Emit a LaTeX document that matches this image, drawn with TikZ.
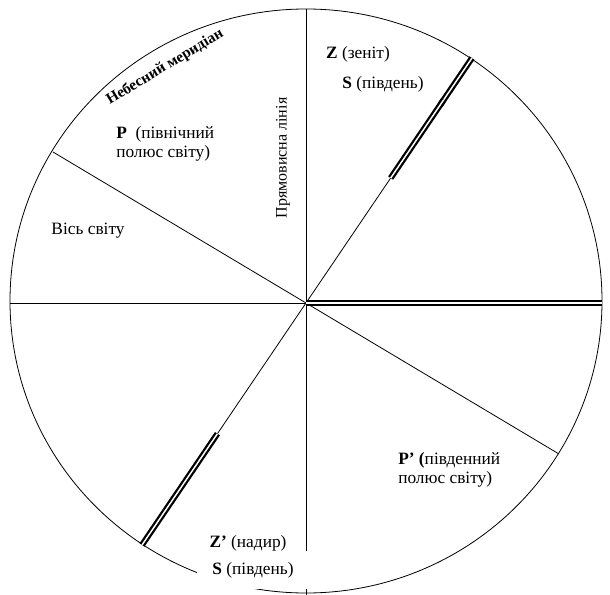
\documentclass[tikz,border=0pt]{standalone}
\usepackage{fontspec}
\setmainfont{Liberation Serif}
\newfontfamily\timesfont{Liberation Serif}
\usetikzlibrary{calc}

\begin{document}
\begin{tikzpicture}[
  x=0.75pt, y=-0.75pt,
  every node/.style={inner sep=0pt, font=\timesfont\fontsize{13}{14.5}\selectfont},
  thin line/.style={draw, line width=0.6pt},
  double axis/.style={draw, line width=1.7pt, double, double distance=1.1pt},
  pole text/.style={anchor=west, align=left}
]
\useasboundingbox (0,0) rectangle (610,595);
\coordinate (O) at (306,303);
\coordinate (C) at (306,301);
\coordinate (top) at (306,9);
\coordinate (bot) at (306,595);
\coordinate (W) at (10,303);
\coordinate (E) at (602,303);
\coordinate (P) at (53,152);
\coordinate (Pn) at (559,454);
\coordinate (Z) at (472,58);
\coordinate (Zn) at (142,545);

% sphere and lines
\draw[line width=0.6pt] (C) ellipse [x radius=222pt, y radius=219pt];
\path[thin line] (top) -- (bot);
\path[thin line] (W) -- (E);
\path[thin line] (P) -- (Pn);
\path[thin line] (Z) -- (Zn);
\path[double axis] (O) -- (E);
\path[double axis, xshift=0.75pt] (Z) -- ($(O)!0.81!(Z)$);
\path[double axis] ($(O)!0.83!(Z)$) -- ($(O)!0.51!(Z)$);
\path[double axis] ($(O)!0.54!(Zn)$) -- (Zn);

% labels
\node[rotate=31, font=\timesfont\fontsize{11.5}{12}\selectfont\bfseries] (merid) at (165,67) {Небесний меридіан};
\node (zenith) at (358,54) {\textbf{Z} (зеніт)};
\node (south) at (383,84) {\textbf{S} (південь)};
\node[rotate=90, font=\timesfont\fontsize{12}{14}\selectfont] (plumb) at (283,158) {Прямовисна лінія};
\node[pole text] (ppole) at (116,144) {\textbf{P}\ \ (північний\\полюс світу)};
\node (axis) at (88,231) {Вісь світу};
\node[pole text] (spole) at (398,470) {\textbf{P’ (}південний\\полюс світу)};
\node[fill=white, minimum width=84pt, minimum height=28pt] (southb) at (253,570) {\textbf{S} (південь)};
\node (nadir) at (248,543) {\textbf{Z’} (надир)};
\end{tikzpicture}
\end{document}
